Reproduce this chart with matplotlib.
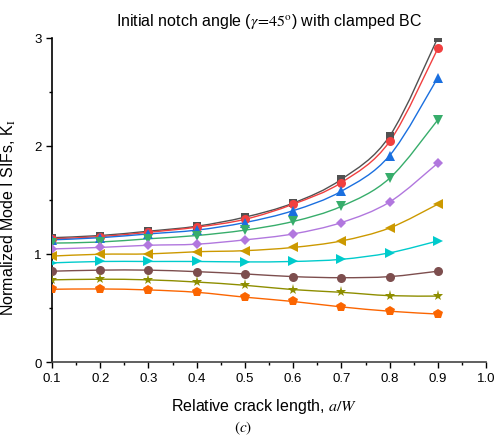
import numpy as np
import matplotlib
matplotlib.use("Agg")
import matplotlib.pyplot as plt
from matplotlib.path import Path
from matplotlib.patches import PathPatch
from matplotlib.ticker import MultipleLocator

plt.rcParams["font.family"] = ["Liberation Sans", "DejaVu Sans"]
plt.rcParams["mathtext.fontset"] = "stix"

# relative crack length a/W
a_w = [0.1, 0.2, 0.3, 0.4, 0.5, 0.6, 0.7, 0.8, 0.9]

# normalized mode I SIFs, one list per curve (top to bottom)
k_1 = [1.15, 1.17, 1.21, 1.256, 1.34, 1.47, 1.69, 2.09, 3.00]
k_2 = [1.14, 1.16, 1.20, 1.247, 1.32, 1.46, 1.66, 2.04, 2.90]
k_3 = [1.13, 1.15, 1.185, 1.22, 1.29, 1.40, 1.58, 1.91, 2.63]
k_4 = [1.10, 1.11, 1.14, 1.17, 1.22, 1.30, 1.44, 1.70, 2.24]
k_5 = [1.046, 1.06, 1.08, 1.09, 1.13, 1.185, 1.29, 1.48, 1.84]
k_6 = [0.98, 0.997, 1.00, 1.02, 1.03, 1.06, 1.12, 1.24, 1.46]
k_7 = [0.917, 0.93, 0.93, 0.93, 0.926, 0.93, 0.95, 1.01, 1.12]
k_8 = [0.84, 0.85, 0.85, 0.836, 0.815, 0.79, 0.78, 0.79, 0.84]
k_9 = [0.76, 0.766, 0.76, 0.74, 0.71, 0.67, 0.645, 0.614, 0.61]
k_10 = [0.673, 0.676, 0.667, 0.645, 0.60, 0.56, 0.51, 0.47, 0.444]

series = [k_1, k_2, k_3, k_4, k_5, k_6, k_7, k_8, k_9, k_10]
colors = ["#515151", "#F14040", "#1A6FDF", "#37AD6B", "#B177DE",
          "#CC9900", "#00CBCC", "#7D4E4E", "#8E8E00", "#FB6501"]
markers = ["s", "o", "^", "v", "D", "<", ">", "o", "*", "p"]
sizes = [6, 6.5, 7, 7, 5.5, 7, 7, 6.5, 8, 7]


def smooth_path(x, y):
    """Catmull-Rom curve through the points, as cubic Bezier segments."""
    pts = np.column_stack([x, y])
    verts = [pts[0]]
    codes = [Path.MOVETO]
    n = len(pts)
    for i in range(n - 1):
        p0 = pts[i - 1] if i > 0 else pts[i]
        p1, p2 = pts[i], pts[i + 1]
        p3 = pts[i + 2] if i + 2 < n else pts[i + 1]
        c1 = p1 + (p2 - p0) / 6.0
        c2 = p2 - (p3 - p1) / 6.0
        verts += [c1, c2, p2]
        codes += [Path.CURVE4] * 3
    return Path(verts, codes)


fig = plt.figure(figsize=(4.95, 4.39), dpi=100)
ax = fig.add_axes([0.105, 0.173, 0.877, 0.739])

for ys, c, m, s in zip(series, colors, markers, sizes):
    ax.add_patch(PathPatch(smooth_path(a_w, ys), facecolor="none",
                           edgecolor=c, lw=1.0, zorder=2))
    ax.plot(a_w, ys, ls="none", marker=m, ms=s, color=c,
            markeredgewidth=0, zorder=3)

ax.set_xlim(0.1, 1.0)
ax.set_ylim(0, 3.0)
ax.xaxis.set_major_locator(MultipleLocator(0.1))
ax.xaxis.set_minor_locator(MultipleLocator(0.05))
ax.yaxis.set_major_locator(MultipleLocator(1))
ax.yaxis.set_minor_locator(MultipleLocator(0.5))
ax.set_xticklabels([f"{v:.1f}" for v in ax.get_xticks()])

for side in ("top", "right"):
    ax.spines[side].set_visible(False)
ax.spines["left"].set_color("black")
ax.spines["bottom"].set_color("#444444")
ax.spines["left"].set_linewidth(1.2)
ax.spines["bottom"].set_linewidth(1.2)
ax.tick_params(which="major", direction="out", length=4.5, width=1.0,
               labelsize=9.5, pad=3)
ax.tick_params(which="minor", direction="out", length=2.5, width=1.0)

ax.set_title(r"Initial notch angle ($\gamma\!=\!45^{\mathrm{o}}$) with clamped BC",
             fontsize=11.5, pad=9)
ax.set_xlabel(r"Relative crack length, $a/W$", fontsize=11.5)
ax.xaxis.set_label_coords(0.488, -0.105)
ax.set_ylabel(r"Normalized Mode I SIFs, K$_{\mathrm{I}}$", fontsize=11.5)
ax.yaxis.set_label_coords(-0.078, 0.448)
fig.text(0.492, 0.025, r"$(c)$", ha="center", va="center", fontsize=11)

fig.savefig("out.png", dpi=100)
